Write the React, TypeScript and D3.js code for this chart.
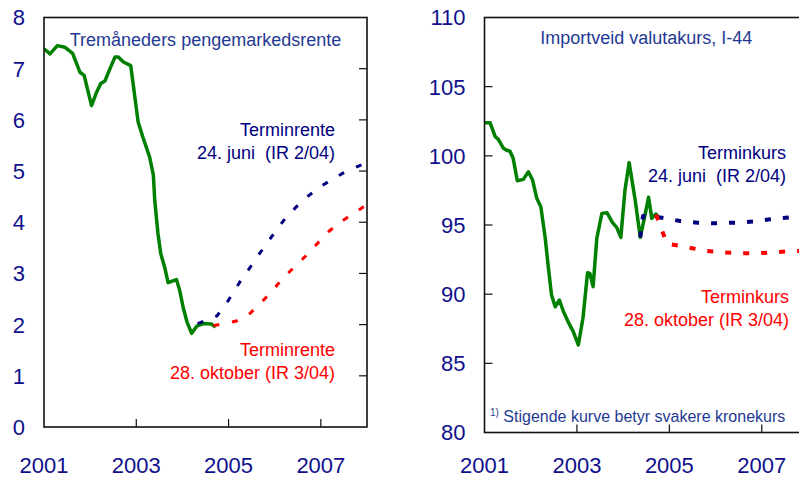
import React, { useEffect, useRef } from "react";
import * as d3 from "d3";

// Left panel: three-month money market rate (decimal years)
const rateDates = [2001.0, 2001.13, 2001.29, 2001.45, 2001.62, 2001.78, 2001.87, 2002.03, 2002.14, 2002.23, 2002.32, 2002.43, 2002.54, 2002.61, 2002.72, 2002.88, 2003.04, 2003.14, 2003.29, 2003.37, 2003.4, 2003.47, 2003.53, 2003.62, 2003.69, 2003.87, 2003.94, 2004.02, 2004.1, 2004.2, 2004.31, 2004.45, 2004.63, 2004.72];
const rateValues = [7.39, 7.29, 7.45, 7.42, 7.3, 6.93, 6.87, 6.28, 6.54, 6.71, 6.76, 7.0, 7.23, 7.23, 7.13, 7.06, 5.96, 5.67, 5.27, 4.92, 4.43, 3.78, 3.39, 3.1, 2.82, 2.88, 2.67, 2.32, 2.05, 1.83, 1.97, 2.02, 2.01, 1.95];

const rateJuneDates = [2004.33, 2004.75, 2005.0, 2005.25, 2005.5, 2005.75, 2006.0, 2006.25, 2006.5, 2006.75, 2007.0, 2007.25, 2007.5, 2007.75, 2008.0];
const rateJuneValues = [2.02, 2.17, 2.48, 2.84, 3.16, 3.49, 3.8, 4.1, 4.33, 4.53, 4.7, 4.84, 4.97, 5.07, 5.17];

const rateOctDates = [2004.67, 2004.92, 2005.17, 2005.42, 2005.67, 2005.92, 2006.17, 2006.42, 2006.67, 2006.92, 2007.17, 2007.42, 2007.67, 2007.92, 2008.0];
const rateOctValues = [1.98, 2.02, 2.07, 2.18, 2.4, 2.63, 2.9, 3.12, 3.34, 3.58, 3.82, 4.0, 4.15, 4.3, 4.34];

// Right panel: import-weighted exchange rate, I-44
const fxDates = [2001.01, 2001.12, 2001.23, 2001.3, 2001.41, 2001.47, 2001.55, 2001.62, 2001.71, 2001.84, 2001.95, 2002.04, 2002.13, 2002.22, 2002.31, 2002.38, 2002.45, 2002.53, 2002.62, 2002.71, 2002.81, 2002.92, 2003.03, 2003.13, 2003.23, 2003.28, 2003.35, 2003.43, 2003.54, 2003.65, 2003.77, 2003.86, 2003.95, 2004.04, 2004.13, 2004.26, 2004.37, 2004.45, 2004.55, 2004.62, 2004.71, 2004.76];
const fxValues = [102.4, 102.4, 101.4, 101.19, 100.54, 100.42, 100.33, 99.82, 98.2, 98.3, 98.85, 98.25, 96.95, 96.3, 94.16, 91.99, 89.94, 89.09, 89.58, 88.73, 88.0, 87.29, 86.33, 88.26, 91.55, 91.5, 90.54, 94.04, 95.84, 95.89, 95.17, 94.83, 94.11, 97.53, 99.51, 96.81, 94.11, 95.36, 97.0, 95.48, 95.79, 95.6];

const fxJuneDates = [2004.37, 2004.43, 2004.54, 2004.84, 2005.23, 2005.62, 2006.01, 2006.42, 2006.81, 2007.18, 2007.61, 2008.0];
const fxJuneValues = [94.11, 95.65, 95.65, 95.52, 95.29, 95.17, 95.12, 95.17, 95.25, 95.41, 95.55, 95.6];

const fxOctDates = [2004.71, 2004.95, 2005.38, 2005.79, 2006.18, 2006.57, 2006.96, 2007.35, 2007.74, 2008.0];
const fxOctValues = [95.75, 93.65, 93.4, 93.12, 93.02, 92.95, 92.97, 93.05, 93.12, 93.15];

const yearLabels = [2001, 2003, 2005, 2007];
const rateTicks = [0, 1, 2, 3, 4, 5, 6, 7, 8];
const fxTicks = [80, 85, 90, 95, 100, 105, 110];

const FONT = "'Liberation Sans', Arial, sans-serif";
const AXIS_COLOR = "#10108c";
const TITLE_COLOR = "#1f3a93";
const NAVY = "#000080";
const RED = "#ff0000";
const GREEN = "#008000";

interface Series {
  dates: number[];
  values: number[];
  color: string;
  dashed: boolean;
}

interface Label {
  lines: string[];
  x: number;
  y: number;
  color: string;
}

interface PanelCfg {
  id: string;
  left: number;
  right: number;
  top: number;
  bottom: number;
  yDomain: [number, number];
  yTicks: number[];
  tickSide: "left" | "right";
  title: string;
  titleY: number;
  series: Series[];
  labels: Label[];
  dash: string;
  dashWidth: number;
}

function drawPanel(svg: d3.Selection<SVGSVGElement, unknown, null, undefined>, cfg: PanelCfg) {
  const x = d3.scaleLinear().domain([2001, 2008]).range([cfg.left, cfg.right]);
  const y = d3.scaleLinear().domain(cfg.yDomain).range([cfg.bottom, cfg.top]);
  const g = svg.append("g");

  svg
    .append("defs")
    .append("clipPath")
    .attr("id", cfg.id)
    .append("rect")
    .attr("x", cfg.left)
    .attr("y", cfg.top)
    .attr("width", cfg.right - cfg.left)
    .attr("height", cfg.bottom - cfg.top);

  // lines
  const lines = g.append("g").attr("clip-path", `url(#${cfg.id})`);
  cfg.series.forEach((s) => {
    const pts = s.dates.map((d, i) => [d, s.values[i]] as [number, number]);
    const line = d3
      .line<[number, number]>()
      .x((d) => x(d[0]))
      .y((d) => y(d[1]));
    lines
      .append("path")
      .attr("d", line(pts))
      .attr("fill", "none")
      .attr("stroke", s.color)
      .attr("stroke-width", s.dashed ? cfg.dashWidth : 3.5)
      .attr("stroke-dasharray", s.dashed ? cfg.dash : null)
      .attr("stroke-linejoin", "round");
  });

  // frame
  g.append("rect")
    .attr("x", cfg.left)
    .attr("y", cfg.top)
    .attr("width", cfg.right - cfg.left)
    .attr("height", cfg.bottom - cfg.top)
    .attr("fill", "none")
    .attr("stroke", "#111")
    .attr("stroke-width", 1.6);

  // y ticks (inward) and labels
  const tx = cfg.tickSide === "right" ? cfg.right : cfg.left;
  const dir = cfg.tickSide === "right" ? -1 : 1;
  cfg.yTicks.slice(1, -1).forEach((t) => {
    g.append("line")
      .attr("x1", tx)
      .attr("x2", tx + dir * 8)
      .attr("y1", y(t))
      .attr("y2", y(t))
      .attr("stroke", "#111")
      .attr("stroke-width", 1.2);
  });
  cfg.yTicks.forEach((t) => {
    g.append("text")
      .attr("x", cfg.left - 19)
      .attr("y", y(t))
      .attr("dy", "0.36em")
      .attr("text-anchor", "end")
      .attr("font-family", FONT)
      .attr("font-size", 22)
      .attr("fill", AXIS_COLOR)
      .text(t);
  });

  // x ticks and labels
  yearLabels.forEach((yr) => {
    if (yr !== 2001) {
      g.append("line")
        .attr("x1", x(yr))
        .attr("x2", x(yr))
        .attr("y1", cfg.bottom)
        .attr("y2", cfg.bottom - 8)
        .attr("stroke", "#111")
        .attr("stroke-width", 1.2);
    }
    g.append("text")
      .attr("x", x(yr))
      .attr("y", 473)
      .attr("text-anchor", "middle")
      .attr("font-family", FONT)
      .attr("font-size", 22)
      .attr("fill", AXIS_COLOR)
      .text(yr);
  });

  // title
  g.append("text")
    .attr("x", (cfg.left + cfg.right) / 2)
    .attr("y", cfg.titleY)
    .attr("text-anchor", "middle")
    .attr("font-family", FONT)
    .attr("font-size", 18)
    .attr("fill", TITLE_COLOR)
    .text(cfg.title);

  // series labels
  cfg.labels.forEach((lb) => {
    const t = g
      .append("text")
      .attr("text-anchor", "end")
      .attr("font-family", FONT)
      .attr("font-size", 18)
      .attr("fill", lb.color)
      .style("white-space", "pre");
    lb.lines.forEach((ln, i) => {
      t.append("tspan")
        .attr("x", lb.x)
        .attr("y", lb.y + i * 22.5)
        .text(ln);
    });
  });
}

const App: React.FC = () => {
  const svgRef = useRef<SVGSVGElement>(null);

  useEffect(() => {
    if (!svgRef.current) return;
    const svg = d3.select(svgRef.current);
    svg.selectAll("*").remove();

    drawPanel(svg, {
      id: "clip-rate",
      left: 44,
      right: 367,
      top: 17.5,
      bottom: 427,
      yDomain: [0, 8],
      yTicks: rateTicks,
      tickSide: "right",
      title: "Tremåneders pengemarkedsrente",
      titleY: 46,
      dash: "6,13",
      dashWidth: 3,
      series: [
        { dates: rateDates, values: rateValues, color: GREEN, dashed: false },
        { dates: rateJuneDates, values: rateJuneValues, color: NAVY, dashed: true },
        { dates: rateOctDates, values: rateOctValues, color: RED, dashed: true },
      ],
      labels: [
        { lines: ["Terminrente", "24. juni  (IR 2/04)"], x: 335, y: 136, color: NAVY },
        { lines: ["Terminrente", "28. oktober (IR 3/04)"], x: 335, y: 356, color: RED },
      ],
    });

    drawPanel(svg, {
      id: "clip-fx",
      left: 484.5,
      right: 808,
      top: 17.5,
      bottom: 432.5,
      yDomain: [80, 110],
      yTicks: fxTicks,
      tickSide: "left",
      title: "Importveid valutakurs, I-44",
      titleY: 44,
      dash: "6,12",
      dashWidth: 4,
      series: [
        { dates: fxDates, values: fxValues, color: GREEN, dashed: false },
        { dates: fxJuneDates, values: fxJuneValues, color: NAVY, dashed: true },
        { dates: fxOctDates, values: fxOctValues, color: RED, dashed: true },
      ],
      labels: [
        { lines: ["Terminkurs", "24. juni  (IR 2/04)"], x: 786, y: 159, color: NAVY },
        { lines: ["Terminkurs", "28. oktober (IR 3/04)"], x: 789, y: 303, color: RED },
      ],
    });

    // footnote
    const fn = svg
      .append("text")
      .attr("x", 490)
      .attr("y", 422)
      .attr("font-family", FONT)
      .attr("font-size", 16)
      .attr("fill", TITLE_COLOR);
    fn.append("tspan").attr("font-size", 10).attr("dy", -6).text("1)");
    fn.append("tspan").attr("dy", 6).text(" Stigende kurve betyr svakere kronekurs");
  }, []);

  return (
    <svg
      ref={svgRef}
      width={799}
      height={477}
      style={{ position: "absolute", left: 0, top: 0, background: "#fff" }}
    />
  );
};

export default App;
